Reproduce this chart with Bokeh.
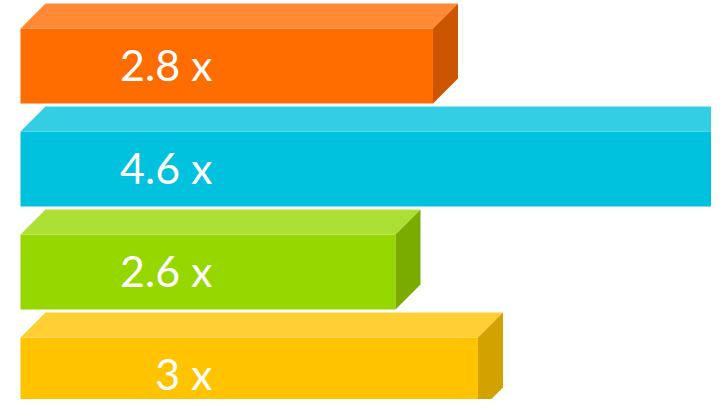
from bokeh.plotting import figure
from bokeh.models import Range1d, ColumnDataSource
from bokeh.core.properties import value
from bokeh.embed import file_html
from bokeh.resources import INLINE

# Data
labels = ["2.8 x", "4.6 x", "2.6 x", "3 x"]
bar_lengths = [2.75, 4.67, 2.50, 3.05]   # drawn bar length (value units)
front_colors = ["#FF6C00", "#00C1DE", "#97D700", "#FFC300"]
top_colors = ["#FF8934", "#33CDE4", "#ADE035", "#FFCF33"]
side_colors = ["#CC5600", "#009AB1", "#7AAC00", "#D1A200"]

W, H = 711, 399
PX_PER_UNIT = 150.0
x0_px = 20
p = figure(width=W, height=H, output_backend="svg", toolbar_location=None,
           x_range=Range1d(-x0_px / PX_PER_UNIT, (W - x0_px) / PX_PER_UNIT),
           y_range=Range1d(H, 0), min_border=0)
p.axis.visible = False
p.grid.visible = False
p.outline_line_color = None
p.background_fill_color = "white"

bar_h = 75
depth_px = 25
d = depth_px / PX_PER_UNIT
first_top = 28
step = 103

tops = [first_top + step * i for i in range(len(labels))]
bottoms = [t + bar_h for t in tops]

front = ColumnDataSource(dict(left=[0] * len(labels), right=bar_lengths,
                              top=tops, bottom=bottoms, color=front_colors))
p.quad(left="left", right="right", top="top", bottom="bottom",
       fill_color="color", line_color=None, source=front)

top_xs, top_ys, side_xs, side_ys = [], [], [], []
for L, t in zip(bar_lengths, tops):
    top_xs.append([0, d, L + d, L])
    top_ys.append([t, t - depth_px, t - depth_px, t])
    side_xs.append([L, L + d, L + d, L])
    side_ys.append([t, t - depth_px, t + bar_h - depth_px, t + bar_h])

p.patches(xs=top_xs, ys=top_ys, fill_color=top_colors, line_color=None)
p.patches(xs=side_xs, ys=side_ys, fill_color=side_colors, line_color=None)

label_x = (212 - x0_px) / PX_PER_UNIT
p.text(x=[label_x] * len(labels), y=[t + 36 for t in tops], text=labels,
       text_color="white", text_font=value("Lato"), text_font_size="43px",
       text_align="right", text_baseline="middle")

open("out.html", "w").write(file_html(p, INLINE))
